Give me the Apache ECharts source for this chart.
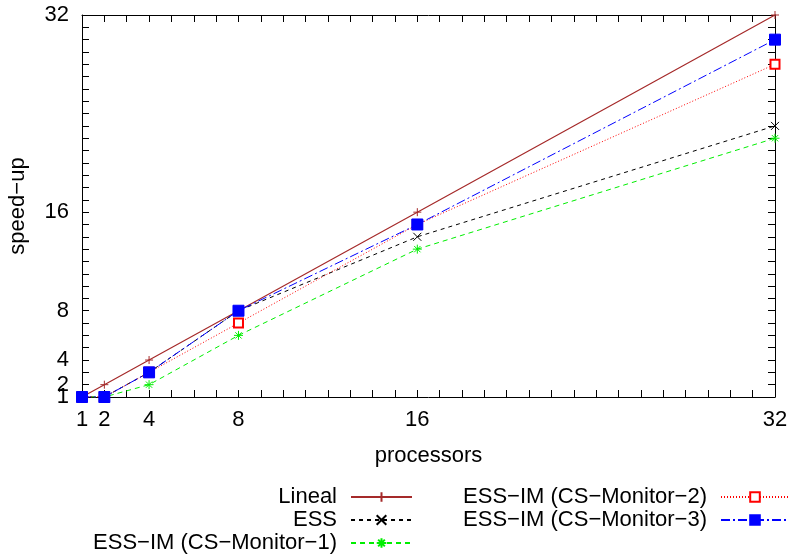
<!DOCTYPE html>
<html>
<head>
<meta charset="utf-8">
<script src="https://cdn.jsdelivr.net/npm/echarts@6/dist/echarts.min.js"></script>
<style>
  html, body { margin: 0; padding: 0; background: #fff; }
  #chart { width: 790px; height: 554px; }
</style>
</head>
<body>
<div id="chart"></div>
<script>
// processors on x, speed-up on y
const processors = [1, 2, 4, 8, 16, 32];
const lineal = [1, 2, 4, 8, 16, 32];
const ess = [1, 1, 3, 8, 14, 23];
const csMonitor1 = [1, 1, 2, 6, 13, 22];
const csMonitor2 = [1, 1, 3, 7, 15, 28];
const csMonitor3 = [1, 1, 3, 8, 15, 30];
const tickLabels = [1, 2, 4, 8, 16, 32];

const FONT = 'Liberation Sans, Arial, Helvetica, sans-serif';

const pairs = (ys) => processors.map((x, i) => [x, ys[i]]);

const plusPath = 'path://M5 0L5 10M0 5L10 5';
const crossPath = 'path://M0 0L10 10M10 0L0 10';
const starPath = 'path://M5 0L5 10M0 5L10 5M1.5 1.5L8.5 8.5M8.5 1.5L1.5 8.5';

const labelFmt = (v) => tickLabels.indexOf(v) >= 0 ? String(v) : '';
// the y "1" label overlaps "2", echarts would drop one of them,
// so the first y label goes on its own overlaid axis
const yLabelFmt = (v) => v !== tickLabels[0] && tickLabels.indexOf(v) >= 0 ? String(v) : '';
const yFirstFmt = (v) => v === tickLabels[0] ? String(v) : '';

const baseAxis = {
  type: 'value',
  min: 1,
  max: 32,
  interval: 1,
  splitLine: {show: false},
  axisLine: {show: true, onZero: false, lineStyle: {color: '#000', width: 1}},
  axisTick: {show: true, inside: true, length: 7, lineStyle: {color: '#000', width: 1}},
};

const tickText = {color: '#000', fontSize: 22, fontFamily: FONT,
  showMinLabel: true, showMaxLabel: true, hideOverlap: false};

const legendText = {
  color: '#000',
  fontFamily: FONT,
  fontSize: 22,
  padding: [0, 9, 0, 0]
};

const chart = echarts.init(document.getElementById('chart'), null, {renderer: 'canvas'});

const mkSeries = (name, ys, color, dash, symbol, size, width) => ({
  name: name,
  type: 'line',
  data: pairs(ys),
  xAxisIndex: 0,
  yAxisIndex: 0,
  color: color,
  symbol: symbol,
  symbolSize: size,
  showAllSymbol: true,
  lineStyle: {color: color, width: width, type: dash},
  itemStyle: {color: color, borderColor: color, borderWidth: 1},
  emphasis: {disabled: true},
  z: 2
});

chart.setOption({
  animation: false,
  backgroundColor: '#fff',
  textStyle: {fontFamily: FONT},
  grid: {left: 82, right: 15, top: 15, bottom: 157, containLabel: false, outerBoundsMode: 'none'},
  xAxis: [
    Object.assign({}, baseAxis, {
      position: 'bottom',
      name: 'processors',
      nameLocation: 'middle',
      nameGap: 48,
      nameTextStyle: {color: '#000', fontSize: 22, fontFamily: FONT},
      axisLabel: Object.assign({}, tickText, {margin: 12, formatter: labelFmt})
    }),
    Object.assign({}, baseAxis, {
      position: 'top',
      axisLabel: {show: false}
    })
  ],
  yAxis: [
    Object.assign({}, baseAxis, {
      position: 'left',
      name: 'speed\u2212up',
      nameLocation: 'middle',
      nameGap: 53,
      nameTextStyle: {color: '#000', fontSize: 22, fontFamily: FONT},
      axisLabel: Object.assign({}, tickText, {margin: 13, formatter: yLabelFmt})
    }),
    Object.assign({}, baseAxis, {
      position: 'right',
      axisLabel: {show: false}
    }),
    Object.assign({}, baseAxis, {
      position: 'left',
      offset: 0,
      axisLine: {show: false},
      axisTick: {show: false},
      axisLabel: Object.assign({}, tickText, {margin: 13, formatter: yFirstFmt})
    })
  ],
  legend: [
    {
      orient: 'vertical',
      align: 'right',
      right: 377,
      top: 486,
      height: 120,
      padding: 0,
      itemWidth: 61,
      itemHeight: 12,
      itemGap: 1,
      selectedMode: false,
      textStyle: legendText,
      data: ['Lineal', 'ESS', 'ESS\u2212IM (CS\u2212Monitor\u22121)']
    },
    {
      orient: 'vertical',
      align: 'right',
      right: 0,
      top: 486,
      height: 120,
      padding: 0,
      itemWidth: 68,
      itemHeight: 12,
      itemGap: 1,
      selectedMode: false,
      textStyle: legendText,
      data: ['ESS\u2212IM (CS\u2212Monitor\u22122)', 'ESS\u2212IM (CS\u2212Monitor\u22123)']
    }
  ],
  series: [
    mkSeries('Lineal', lineal, '#a52a2a', 'solid', plusPath, 8, 1.2),
    mkSeries('ESS', ess, '#000000', [4, 4], crossPath, 8, 1),
    mkSeries('ESS\u2212IM (CS\u2212Monitor\u22121)', csMonitor1, '#00ee00', [5, 4], starPath, 9, 1),
    mkSeries('ESS\u2212IM (CS\u2212Monitor\u22122)', csMonitor2, '#ff0000', [1, 2], 'emptyRect', 9, 1),
    mkSeries('ESS\u2212IM (CS\u2212Monitor\u22123)', csMonitor3, '#0000ff', [9, 3, 2, 3], 'rect', 11, 1)
  ]
});
</script>
</body>
</html>
